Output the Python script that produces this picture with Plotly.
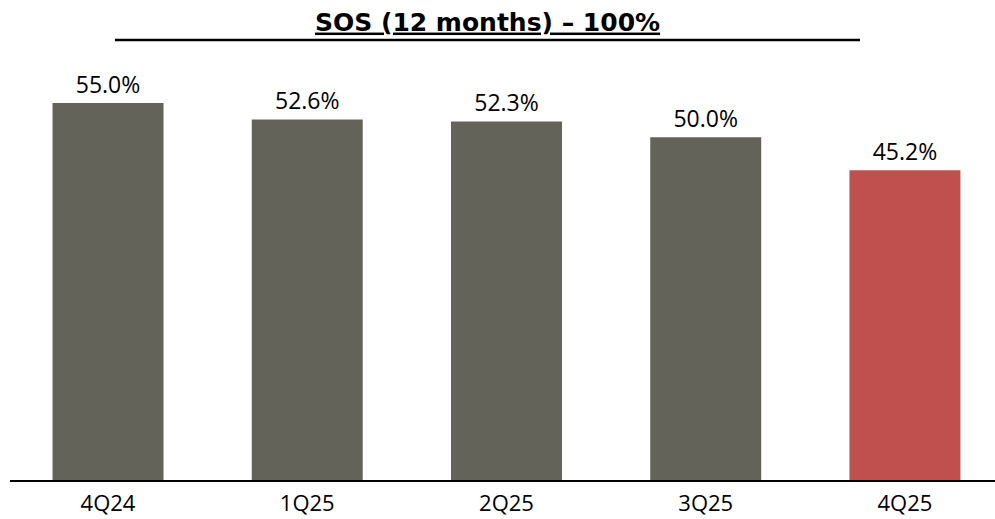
import plotly.graph_objects as go

quarters = ["4Q24", "1Q25", "2Q25", "3Q25", "4Q25"]
sos_pct = [55.0, 52.6, 52.3, 50.0, 45.2]
bar_colors = ["#63635A", "#63635A", "#63635A", "#63635A", "#C0504D"]

fig = go.Figure(
    go.Bar(
        x=quarters,
        y=sos_pct,
        marker=dict(color=bar_colors, line=dict(width=0)),
        text=[f"{v:.1f}%" for v in sos_pct],
        textposition="outside",
        textfont=dict(family="Open Sans", size=23, color="#000000"),
        cliponaxis=False,
        width=0.557,
    )
)

fig.update_layout(
    width=995,
    height=519,
    margin=dict(l=10, r=0, t=60, b=39),
    paper_bgcolor="white",
    plot_bgcolor="white",
    showlegend=False,
    title=dict(
        text="<u><b>SOS (12 months) – 100%</b></u>",
        x=0.49,
        xanchor="center",
        y=0.958,
        yanchor="middle",
        font=dict(family="DejaVu Sans", size=25, color="#000000"),
    ),
    xaxis=dict(
        range=[-0.492, 4.452],
        showline=True,
        linecolor="#000000",
        linewidth=1.5,
        ticks="",
        ticklabelstandoff=3,
        tickfont=dict(family="Open Sans", size=22, color="#000000"),
        showgrid=False,
    ),
    yaxis=dict(
        range=[0, 61.27],
        visible=False,
        showgrid=False,
    ),
    shapes=[
        dict(
            type="line",
            xref="paper",
            yref="paper",
            x0=(115 - 10) / 985,
            x1=(860 - 10) / 985,
            y0=(480 - 40) / 420,
            y1=(480 - 40) / 420,
            line=dict(color="#000000", width=2.5),
        )
    ],
)

fig.write_html("out.html")
